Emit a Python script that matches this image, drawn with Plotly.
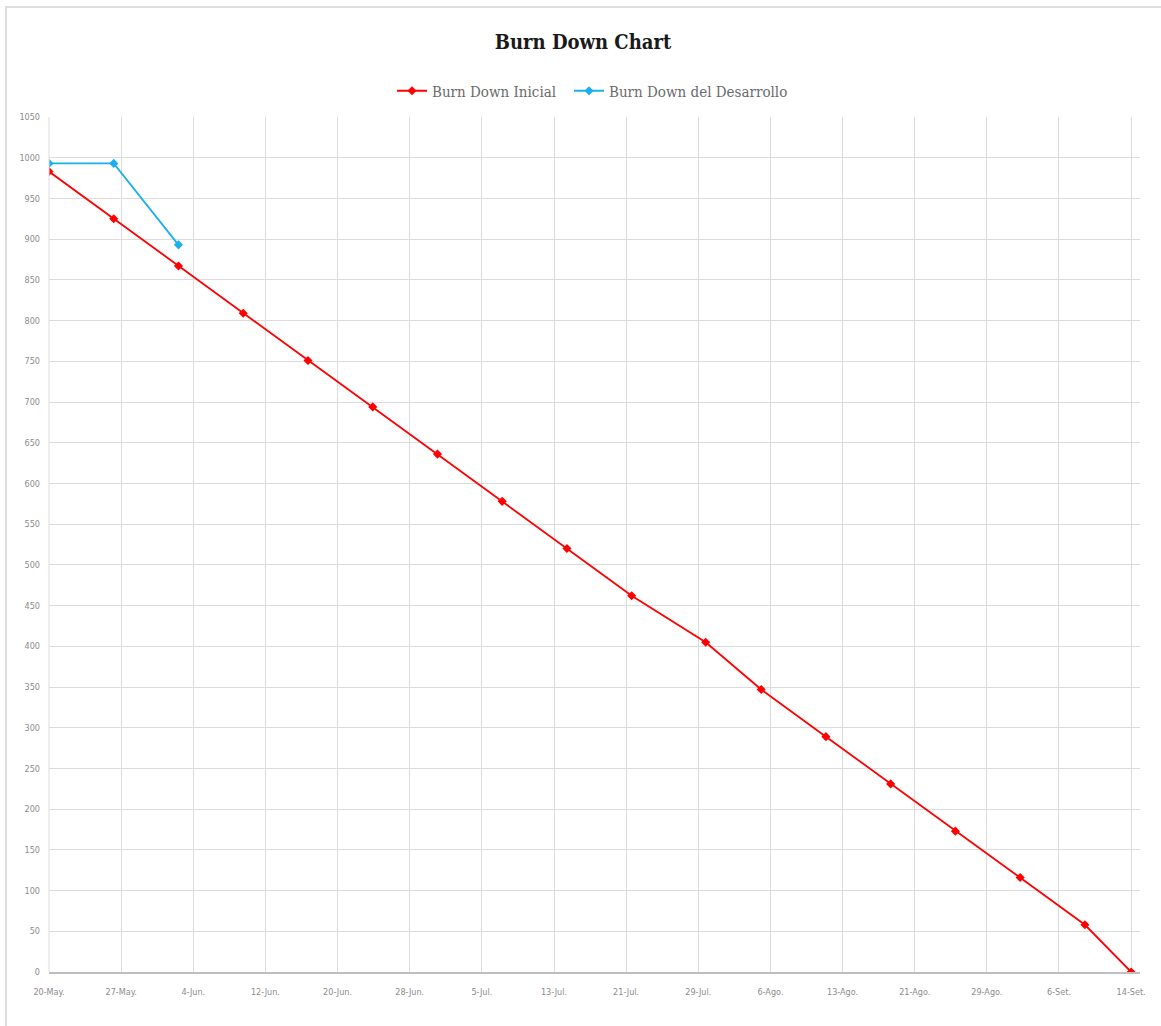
import numpy as np
import pandas as pd
import plotly.graph_objects as go

# Planned burn down (weekly checkpoints)
fechas_inicial = ["2019-05-20", "2019-05-27", "2019-06-03", "2019-06-10", "2019-06-17",
                  "2019-06-24", "2019-07-01", "2019-07-08", "2019-07-15", "2019-07-22",
                  "2019-07-30", "2019-08-05", "2019-08-12", "2019-08-19", "2019-08-26",
                  "2019-09-02", "2019-09-09", "2019-09-14"]
valores_inicial = [983, 925, 867, 809, 751, 694, 636, 578, 520, 462,
                   405, 347, 289, 231, 173, 116, 58, 0]

# Actual development progress
fechas_desarrollo = ["2019-05-20", "2019-05-27", "2019-06-03"]
valores_desarrollo = [993, 993, 893]

# Axis tick labels
etiquetas_x = ["20-May.", "27-May.", "4-Jun.", "12-Jun.", "20-Jun.", "28-Jun.", "5-Jul.",
               "13-Jul.", "21-Jul.", "29-Jul.", "6-Ago.", "13-Ago.", "21-Ago.", "29-Ago.",
               "6-Set.", "14-Set."]
eje_inicio = "2019-05-20"
eje_fin = "2019-09-14"

# Date ticks spread evenly from first to last day
t0 = pd.Timestamp(eje_inicio)
t1 = pd.Timestamp(eje_fin)
tick_vals = [t0 + (t1 - t0) * k / (len(etiquetas_x) - 1) for k in range(len(etiquetas_x))]

ROJO = "#ff0000"
AZUL = "#1ab0ef"
GRID = "#dcdcdc"
TICK_FONT = dict(family="Liberation Sans Narrow, DejaVu Sans Condensed, sans-serif",
                 size=9, color="#8c8c8c")
LEGEND_FONT = dict(family="DejaVu Serif Condensed, Liberation Serif, serif",
                   size=15, color="#6b6b6b")

fig = go.Figure()
fig.add_trace(go.Scatter(
    x=pd.to_datetime(fechas_inicial), y=valores_inicial, mode="lines+markers",
    name="Burn Down Inicial",
    line=dict(color=ROJO, width=1.8),
    marker=dict(color=ROJO, size=7, symbol="diamond"),
    legend="legend",
))
fig.add_trace(go.Scatter(
    x=pd.to_datetime(fechas_desarrollo), y=valores_desarrollo, mode="lines+markers",
    name="Burn Down del Desarrollo",
    line=dict(color=AZUL, width=1.8),
    marker=dict(color=AZUL, size=7, symbol="diamond"),
    legend="legend2",
))

L, R, T, B = 49, 21, 117, 54
W, H = 1161, 1026
pw = W - L - R
ph = H - T - B

legend_y = 1 + (T - 91) / ph

fig.update_layout(
    width=W, height=H,
    margin=dict(l=L, r=R, t=T, b=B),
    paper_bgcolor="white", plot_bgcolor="white",
    title=dict(text="<b>Burn Down Chart</b>", x=583 / W, xanchor="center",
               y=1 - 42 / H, yanchor="middle",
               font=dict(family="DejaVu Serif Condensed, Liberation Serif, serif",
                         size=20, color="#1a1a1a")),
    legend=dict(orientation="h", x=(392 - L) / pw, xanchor="left", y=legend_y,
                yanchor="middle", font=LEGEND_FONT, itemwidth=30),
    legend2=dict(orientation="h", x=(569 - L) / pw, xanchor="left", y=legend_y,
                 yanchor="middle", font=LEGEND_FONT, itemwidth=30),
    showlegend=True,
    xaxis=dict(
        type="date",
        range=[t0, t1 + pd.Timedelta(hours=23)],
        tickvals=tick_vals, ticktext=etiquetas_x,
        showgrid=True, gridcolor=GRID, gridwidth=1,
        showline=True, linecolor="#bfbfbf", linewidth=1.5,
        ticks="", tickfont=TICK_FONT, ticklabelstandoff=10,
        zeroline=False, fixedrange=True,
    ),
    yaxis=dict(
        range=[0, 1050], tick0=0, dtick=50,
        showgrid=True, gridcolor=GRID, gridwidth=1,
        showline=False, ticks="", tickfont=TICK_FONT, ticklabelstandoff=8,
        zeroline=False, fixedrange=True,
    ),
    shapes=[
        # left edge line of plot area
        dict(type="line", xref="paper", yref="paper", x0=0, x1=0, y0=0, y1=1,
             line=dict(color=GRID, width=1)),
        # outer chart frame
        dict(type="rect", xref="paper", yref="paper",
             x0=(6 - L) / pw, x1=(W + 10 - L) / pw,
             y0=-(H + 10 - (H - B)) / ph, y1=1 + (T - 7) / ph,
             line=dict(color="#dedede", width=2), layer="below"),
    ],
)

fig.write_html("out.html")
